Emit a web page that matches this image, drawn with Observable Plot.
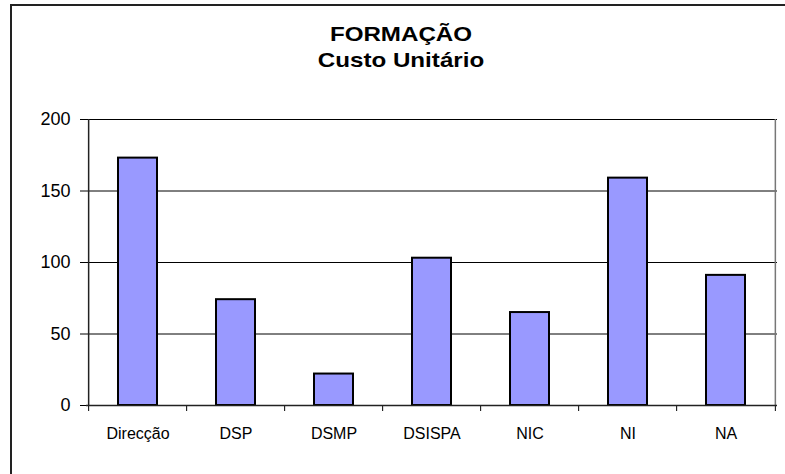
<!DOCTYPE html>
<html>
<head>
<meta charset="utf-8">
<script src="https://cdn.jsdelivr.net/npm/d3@7"></script>
<script src="https://cdn.jsdelivr.net/npm/@observablehq/plot@0.6"></script>
<style>
  html, body { margin: 0; padding: 0; background: #fff; }
  #wrap { position: relative; width: 785px; height: 474px; overflow: hidden; font-family: Arial, "Liberation Sans", sans-serif; }
  #border { position: absolute; left: 10px; top: 4px; width: 800px; height: 500px; border-left: 2px solid #222; border-top: 2px solid #222; }
  .title { position: absolute; left: 201px; width: 400px; text-align: center; font-weight: bold; font-size: 21px; color: #000; transform: scaleX(1.15); line-height: 1; }
  #plot { position: absolute; left: 0; top: 0; }
</style>
</head>
<body>
<div id="wrap">
  <div id="border"></div>
  <div class="title" style="top:23px">FORMAÇÃO</div>
  <div class="title" style="top:49px">Custo Unitário</div>
  <div id="plot"></div>
</div>
<script>
const categories = ["Direcção", "DSP", "DSMP", "DSISPA", "NIC", "NI", "NA"];
const values = [173, 74, 22, 103, 65, 159, 91];
const yTicks = [0, 50, 100, 150, 200];
const gridValues = [50, 100, 150, 200];

const data = categories.map((c, i) => ({category: c, value: values[i]}));

const W = 785, H = 474;
const mL = 86, mR = 8, mT = 119, mB = 69;
const step = (W - mL - mR) / categories.length;

const chart = Plot.plot({
  width: W,
  height: H,
  marginLeft: mL,
  marginRight: mR,
  marginTop: mT,
  marginBottom: mB,
  style: {fontFamily: "Arial, 'Liberation Sans', sans-serif", background: "transparent", overflow: "visible"},
  x: {domain: categories, paddingInner: 0.6, paddingOuter: 0.3, label: null},
  y: {domain: [0, 200], label: null},
  marks: [
    Plot.ruleY(gridValues, {y: d => d, stroke: "#000", strokeWidth: 1}),
    Plot.ruleX([categories[categories.length - 1]], {x: d => d, dx: step / 2, stroke: "#777", strokeWidth: 1.5}),
    Plot.barY(data, {x: "category", y: "value", fill: "#9999FF", stroke: "#000", strokeWidth: 2}),
    Plot.ruleX(categories, {x: d => d, dx: -step / 2, y1: 0, y2: 0, insetBottom: -6, stroke: "#000", strokeWidth: 1}),
    Plot.ruleX([categories[categories.length - 1]], {x: d => d, dx: step / 2, y1: 0, y2: 0, insetBottom: -6, stroke: "#000", strokeWidth: 1}),
    Plot.ruleX([categories[0]], {x: d => d, dx: -step / 2, stroke: "#222", strokeWidth: 1.5}),
    Plot.ruleY([0], {stroke: "#222", strokeWidth: 1.5}),
    Plot.axisY({ticks: yTicks, tickSize: 6, tickPadding: 10, fontSize: 18, label: null, stroke: "#000", style: {letterSpacing: "1px"}}),
    Plot.axisX({tickSize: 0, tickPadding: 22, fontSize: 16, label: null, style: {letterSpacing: "0.7px"}})
  ]
});
chart.querySelectorAll("text").forEach(t => t.setAttribute("fill", "#000"));
document.getElementById("plot").appendChild(chart);
</script>
</body>
</html>
